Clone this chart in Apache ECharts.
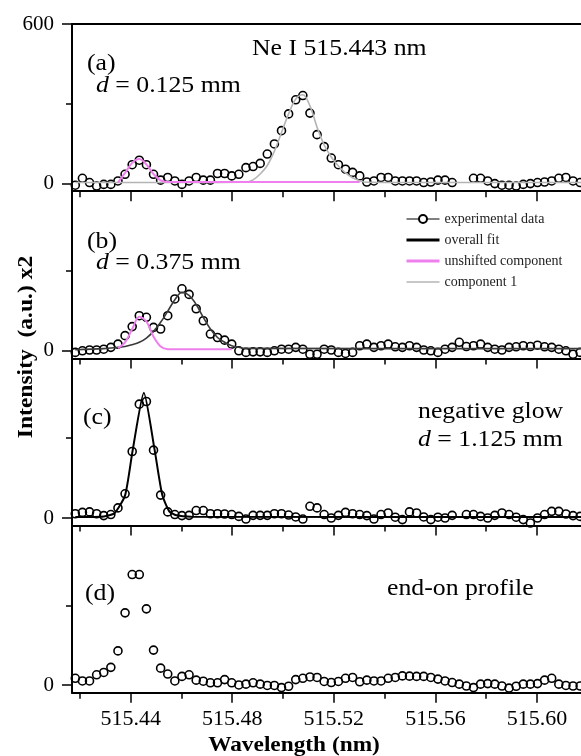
<!DOCTYPE html>
<html>
<head>
<meta charset="utf-8">
<title>Ne I 515.443 nm</title>
<script src="https://cdn.jsdelivr.net/npm/echarts@6.0.0/dist/echarts.min.js"></script>
<style>
  html, body { margin: 0; padding: 0; background: #fff; }
  #chart { width: 581px; height: 756px; }
</style>
</head>
<body>
<div id="chart"></div>
<script>
// wavelength grid of the measured points (nm)
const wavelength = [
  515.4182, 515.4210, 515.4238, 515.4266, 515.4294, 515.4322, 515.4350, 515.4378, 515.4406, 515.4434,
  515.4462, 515.4490, 515.4518, 515.4546, 515.4574, 515.4602, 515.4630, 515.4658, 515.4686, 515.4714,
  515.4742, 515.4770, 515.4798, 515.4826, 515.4854, 515.4882, 515.4910, 515.4938, 515.4966, 515.4994,
  515.5022, 515.5050, 515.5078, 515.5106, 515.5134, 515.5162, 515.5190, 515.5218, 515.5246, 515.5274,
  515.5302, 515.5330, 515.5358, 515.5386, 515.5414, 515.5442, 515.5470, 515.5498, 515.5526, 515.5554,
  515.5582, 515.5610, 515.5638, 515.5666, 515.5694, 515.5722, 515.5750, 515.5778, 515.5806, 515.5834,
  515.5862, 515.5890, 515.5918, 515.5946, 515.5974, 515.6002, 515.6030, 515.6058, 515.6086, 515.6114,
  515.6142, 515.6170, 515.6198
];

// experimental data, one list per panel
const dataA = [
  -6, 20, 4, -9, -3, -3, 10, 35, 71, 88,
  71, 35, 13, 23, 10, -3, 10, 23, 13, 13,
  38, 38, 29, 35, 60, 64, 76, 111, 149, 199,
  262, 315, 331, 265, 184, 139, 96, 71, 54, 42,
  29, 6, 10, 23, 23, 10, 10, 10, 10, 4,
  6, 13, 13, 4, null, null, 20, 20, 10, 0,
  -6, -6, -9, -3, 0, 4, 6, 10, 20, 23,
  10, 4, 0
];
const dataB = [
  -6, 0, 3, 3, 6, 13, 25, 57, 91, 132,
  126, 88, 82, 132, 195, 233, 212, 158, 113, 63,
  50, 40, 25, 0, -6, -4, -4, -6, 0, 6,
  6, 13, 6, -13, -13, 6, 3, -6, -10, -6,
  19, 25, 13, 19, 25, 15, 13, 19, 13, 3,
  0, -6, 6, 13, 32, 16, 19, 25, 13, 6,
  3, 13, 15, 19, 16, 21, 15, 13, 6, 0,
  -13, -6, 0
];
const dataC = [
  16, 21, 23, 16, 9, 13, 38, 91, 250, 428,
  438, 255, 86, 23, 13, 9, 10, 28, 28, 16,
  16, 15, 13, 6, -4, 10, 10, 10, 16, 16,
  11, 4, -4, 44, 38, 13, 0, 10, 21, 16,
  13, 9, -4, 13, 19, 3, -6, 23, 19, 4,
  -6, 3, 0, 10, null, 13, 13, 6, 0, 10,
  19, 13, 3, -6, -19, 0, 13, 25, 25, 15,
  9, 6, 6
];
const dataD = [
  26, 16, 16, 39, 48, 67, 129, 272, 416, 416,
  287, 132, 64, 42, 16, 33, 39, 19, 15, 9,
  9, 21, 9, 1, 4, 9, 4, -1, -1, -9,
  -4, 21, 26, 31, 29, 14, 10, 14, 26, 29,
  13, 19, 16, 16, 26, 29, 35, 34, 33, 33,
  29, 23, 16, 10, 4, -3, -9, 4, 6, 4,
  -3, -11, -4, 4, 4, 6, 19, 26, 4, -1,
  -3, -3, 1
];

// fitted curves
const fitA1Wl = [515.4182, 515.4600, 515.4854, 515.4882, 515.4910, 515.4938, 515.4966, 515.4994, 515.5022, 515.5050,
  515.5078, 515.5106, 515.5134, 515.5162, 515.5190, 515.5218, 515.5246, 515.5274, 515.5302, 515.5330, 515.5500, 515.6198];
const fitA1 = [4, 4, 6, 14, 36, 68, 122, 192, 262, 318, 334, 292, 212, 145, 100, 66, 40, 22, 11, 5, 4, 4];
const fitAuWl = [515.4350, 515.4378, 515.4406, 515.4434, 515.4462, 515.4490, 515.4518, 515.4546, 515.5302];
const fitAu = [4, 40, 78, 92, 72, 36, 12, 6, 6];

const fitBWl = [515.4182, 515.4294, 515.4350, 515.4378, 515.4406, 515.4434, 515.4462, 515.4490, 515.4518, 515.4546,
  515.4574, 515.4602, 515.4630, 515.4658, 515.4686, 515.4714, 515.4742, 515.4770, 515.4798, 515.4826, 515.4854, 515.6198];
const fitB = [4, 8, 13, 16, 23, 32, 48, 73, 107, 149, 192, 220, 208, 174, 126, 82, 50, 32, 19, 13, 9, 8];
const fitBuWl = [515.4350, 515.4378, 515.4406, 515.4434, 515.4462, 515.4490, 515.4518, 515.4546, 515.4798];
const fitBu = [10, 32, 82, 128, 110, 53, 16, 6, 6];

const fitCWl = [515.4182, 515.4294, 515.4336, 515.4378, 515.4408, 515.4452, 515.4494, 515.4524, 515.4552, 515.4580, 515.4640, 515.6198];
const fitC = [4, 6, 18, 85, 255, 471, 258, 88, 25, 10, 5, 4];

const xTicksMajor = [515.44, 515.48, 515.52, 515.56, 515.60];
const xTicksMinor = [515.42, 515.46, 515.50, 515.54, 515.58];
const xMin = 515.4169, xMax = 515.6197;
const yMin = -28.6, yMax = 600;

const pair = (xs, ys) => xs.map((x, i) => [x, ys[i]]);

const panelTop = [24, 191.2, 358.4, 525.6];
const panelHeight = 167.2;
const font = 'Liberation Serif';

let myChart = echarts.init(document.getElementById('chart'));

let grids = [], xAxes = [], yAxes = [], series = [];

panelTop.forEach((top, k) => {
  grids.push({ left: 72, right: -6, top: top, height: panelHeight, outerBoundsMode: 'none' });
  xAxes.push({
    gridIndex: k, type: 'value', min: xMin, max: xMax, position: 'bottom',
    axisLine: { onZero: false, lineStyle: { color: '#000', width: 2 } },
    axisTick: { customValues: xTicksMajor, length: 10, lineStyle: { color: '#000', width: 1.5 } },
    axisLabel: { show: k === 3, customValues: xTicksMajor, margin: 15, fontSize: 22, fontFamily: font, color: '#000',
      formatter: v => v.toFixed(2) },
    splitLine: { show: false }
  });
  yAxes.push({
    gridIndex: k, type: 'value', min: yMin, max: yMax, position: 'left',
    axisLine: { onZero: false, lineStyle: { color: '#000', width: 2 } },
    axisTick: { customValues: k === 0 ? [0, 600] : [0], length: 10, lineStyle: { color: '#000', width: 1.5 } },
    axisLabel: { customValues: k === 0 ? [0, 600] : [0], margin: 18, fontSize: 21, fontFamily: font, color: '#000' },
    splitLine: { show: false }
  });
});
// short ticks
panelTop.forEach((top, k) => {
  xAxes.push({
    gridIndex: k, type: 'value', min: xMin, max: xMax, position: 'bottom',
    axisLine: { show: false, onZero: false },
    axisTick: { customValues: xTicksMinor, length: 6, lineStyle: { color: '#000', width: 1.5 } },
    axisLabel: { show: false }, splitLine: { show: false }
  });
  yAxes.push({
    gridIndex: k, type: 'value', min: yMin, max: yMax, position: 'left',
    axisLine: { show: false, onZero: false },
    axisTick: { customValues: [300], length: 6, lineStyle: { color: '#000', width: 1.5 } },
    axisLabel: { show: false }, splitLine: { show: false }
  });
});
// top frame line
xAxes.push({
  gridIndex: 0, type: 'value', min: xMin, max: xMax, position: 'top',
  axisLine: { onZero: false, lineStyle: { color: '#000', width: 2 } },
  axisTick: { show: false }, axisLabel: { show: false }, splitLine: { show: false }
});

function dataSeries(k, values) {
  return {
    name: 'experimental data', type: 'line', xAxisIndex: k, yAxisIndex: k,
    data: pair(wavelength, values),
    symbol: 'circle', symbolSize: 8,
    itemStyle: { color: 'rgba(255,255,255,0)', borderColor: '#000', borderWidth: 1.6 },
    lineStyle: { width: 0, opacity: 0 },
    z: 2
  };
}
function fitSeries(k, name, xs, ys, color, width, smooth) {
  return {
    name: name, type: 'line', xAxisIndex: k, yAxisIndex: k,
    data: pair(xs, ys), symbol: 'none', smooth: smooth,
    lineStyle: { color: color, width: width }, itemStyle: { color: color },
    z: 3
  };
}

series.push(dataSeries(0, dataA));
series.push(fitSeries(0, 'component 1', fitA1Wl, fitA1, '#b4b4b4', 1.6, 0.35));
series.push(fitSeries(0, 'unshifted component', fitAuWl, fitAu, '#ee80ee', 2, 0.35));
series.push(dataSeries(1, dataB));
series.push(fitSeries(1, 'overall fit', fitBWl, fitB, '#3a3a3a', 1.6, 0.35));
series.push(fitSeries(1, 'unshifted component', fitBuWl, fitBu, '#ee80ee', 2, 0.35));
series.push(dataSeries(2, dataC));
series.push(fitSeries(2, 'overall fit', fitCWl, fitC, '#000', 2, 0.2));
series.push(dataSeries(3, dataD));

function label(x, y, text, size) {
  return {
    type: 'text', x: x, y: y, scaleX: 1.12, silent: true,
    style: {
      text: text, fontFamily: font, fontSize: size, fill: '#000',
      align: 'left', verticalAlign: 'middle',
      rich: { i: { fontStyle: 'italic', fontFamily: font, fontSize: size, fill: '#000' } }
    }
  };
}

const noSymbol = { opacity: 0 };

let option = {
  animation: false,
  backgroundColor: '#fff',
  textStyle: { fontFamily: font },
  grid: grids,
  xAxis: xAxes,
  yAxis: yAxes,
  legend: {
    orient: 'vertical', left: 405, top: 212, padding: 0,
    itemWidth: 33, itemHeight: 10, itemGap: 7,
    textStyle: { fontFamily: font, fontSize: 14, color: '#222' },
    data: [
      { name: 'experimental data', lineStyle: { color: '#000', width: 1, opacity: 1 },
        itemStyle: { color: '#fff', borderColor: '#000', borderWidth: 2 } },
      { name: 'overall fit', lineStyle: { color: '#000', width: 3 }, itemStyle: noSymbol },
      { name: 'unshifted component', lineStyle: { color: '#ee80ee', width: 3 }, itemStyle: noSymbol },
      { name: 'component 1', lineStyle: { color: '#b4b4b4', width: 1.5 }, itemStyle: noSymbol }
    ]
  },
  graphic: [
    label(252, 49, 'Ne I 515.443 nm', 23),
    label(87, 64, '(a)', 23),
    label(96, 86, '{i|d} = 0.125 mm', 23),
    label(87, 242, '(b)', 23),
    label(96, 263, '{i|d} = 0.375 mm', 23),
    label(83, 418, '(c)', 23),
    label(418, 412, 'negative glow', 23),
    label(418, 440, '{i|d} = 1.125 mm', 23),
    label(85, 594, '(d)', 23),
    label(387, 589, 'end-on profile', 23),
    {
      type: 'text', x: 27, y: 347, rotation: Math.PI / 2, scaleX: 1.12, silent: true,
      style: { text: 'Intensity  (a.u.) x2', fontFamily: font, fontSize: 21, fontWeight: 'bold', fill: '#000',
        align: 'center', verticalAlign: 'middle' }
    },
    {
      type: 'text', x: 294, y: 745, scaleX: 1.06, silent: true,
      style: { text: 'Wavelength (nm)', fontFamily: font, fontSize: 22, fontWeight: 'bold', fill: '#000',
        align: 'center', verticalAlign: 'middle' }
    }
  ],
  series: series
};

myChart.setOption(option);
</script>
</body>
</html>
